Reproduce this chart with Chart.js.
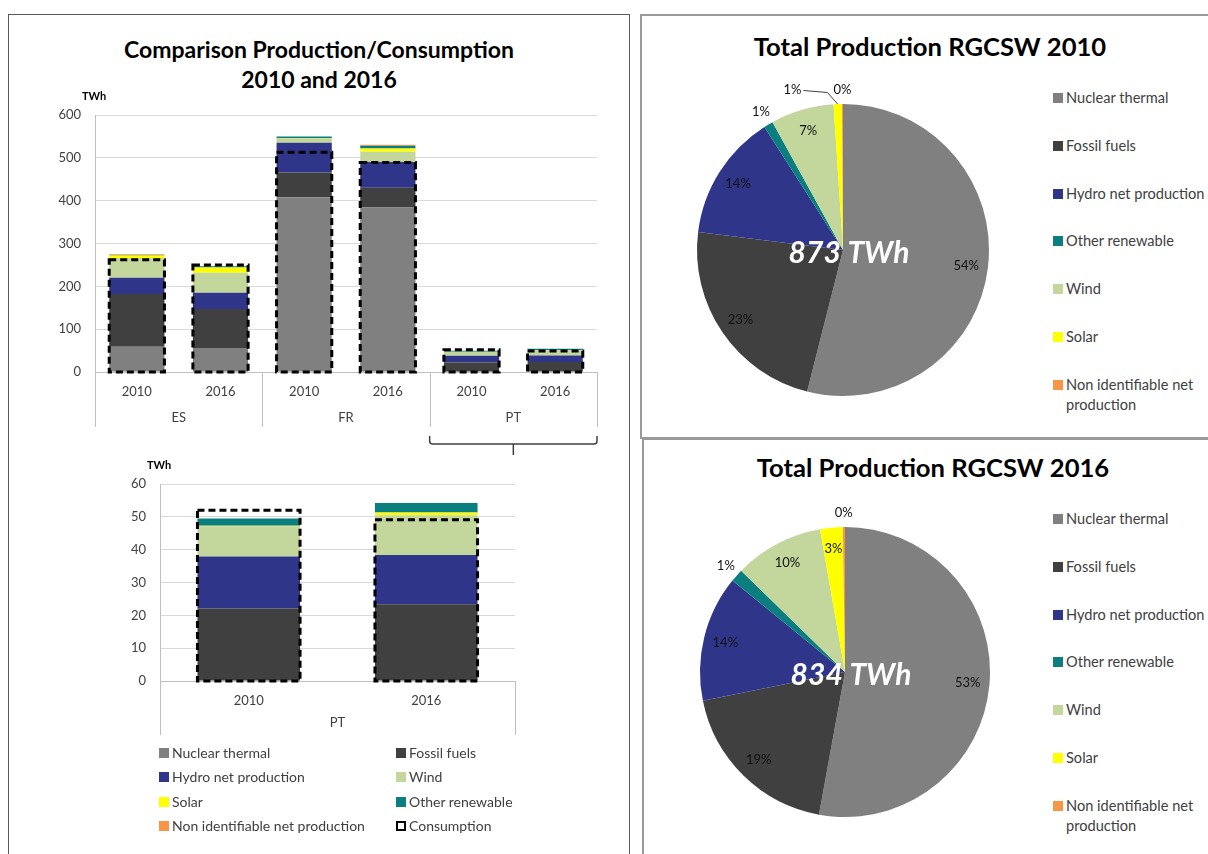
<!DOCTYPE html>
<html>
<head>
<meta charset="utf-8">
<title>Production / Consumption RGCSW 2010 - 2016</title>
<script src="https://cdn.jsdelivr.net/npm/chart.js@4.4.1/dist/chart.umd.min.js"></script>
<style>
  body { margin: 0; background: #fff; font-family: Lato, "Open Sans", sans-serif; color: #404040; }
  #page { position: relative; width: 1208px; height: 854px; overflow: hidden; }
  .frame { position: absolute; box-sizing: border-box; }
  .title { position: absolute; text-align: center; font-weight: bold; color: #000; }
  canvas { position: absolute; }
  .leg { position: absolute; white-space: nowrap; color: #404040; }
  .leg i { position: absolute; left: 0; display: block; box-sizing: border-box; }
</style>
</head>
<body>
<div id="page">
  <div class="frame" style="left:8px;top:14px;width:622px;height:900px;border:1px solid #595959;"></div>
  <div class="frame" style="left:640px;top:14px;width:600px;height:425px;border:2px solid #9a9a9a;"></div>
  <div class="frame" style="left:642px;top:438px;width:600px;height:500px;border:2px solid #9a9a9a;"></div>

  <div class="title" style="left:8px;top:34px;width:622px;font-size:23px;line-height:30px;">Comparison Production/Consumption<br>2010 and 2016</div>
  <div class="title" style="left:700px;top:31px;width:460px;font-size:25.6px;line-height:30px;">Total Production RGCSW 2010</div>
  <div class="title" style="left:703px;top:452px;width:460px;font-size:25.6px;line-height:30px;">Total Production RGCSW 2016</div>

  <canvas id="mainChart" width="600" height="370" style="left:20px;top:90px;"></canvas>
  <canvas id="ptChart" width="440" height="290" style="left:100px;top:455px;"></canvas>
  <canvas id="pie2010" width="360" height="380" style="left:663px;top:60px;"></canvas>
  <canvas id="pie2016" width="360" height="370" style="left:665px;top:482px;"></canvas>
</div>

<script>
  // columns: ES 2010, ES 2016, FR 2010, FR 2016, PT 2010, PT 2016
  const years = ['2010', '2016', '2010', '2016', '2010', '2016'];
  const countries = ['ES', 'FR', 'PT'];

  // TWh
  const nuclear = [59, 56, 408, 384, 0, 0];
  const fossil = [123, 91, 58, 46, 22.1, 23.4];
  const hydro = [38, 38, 69, 60, 15.8, 15];
  const wind = [46, 47, 10, 24, 9.2, 12.1];
  const solar = [6, 12, 0.6, 8, 0.2, 0.8];
  const otherRen = [1, 3, 4, 6.5, 2.2, 2.9];
  const nonIdent = [2, 0.5, 0.4, 2, 0, 0];
  const consumption = [262, 250, 513, 489, 52, 49.1];

  // regional totals by source (TWh)
  const pieSources = ['Nuclear thermal', 'Fossil fuels', 'Hydro net production', 'Other renewable', 'Wind', 'Solar', 'Non identifiable net production'];
  const pie2010 = [471, 201, 122, 9, 61, 8, 1];
  const pie2016 = [441, 158, 117, 12, 83, 21, 2];

  const colors = {
    'Nuclear thermal': '#808080',
    'Fossil fuels': '#404040',
    'Hydro net production': '#2f3689',
    'Wind': '#c3d69b',
    'Solar': '#ffff00',
    'Other renewable': '#0b7f7f',
    'Non identifiable net production': '#f79646'
  };

  const barSeries = [
    { label: 'Nuclear thermal', data: nuclear },
    { label: 'Fossil fuels', data: fossil },
    { label: 'Hydro net production', data: hydro },
    { label: 'Wind', data: wind },
    { label: 'Solar', data: solar },
    { label: 'Other renewable', data: otherRen },
    { label: 'Non identifiable net production', data: nonIdent }
  ];

  Chart.defaults.font.family = 'Lato';
  Chart.defaults.color = '#404040';

  // dashed consumption outline over each stacked column
  const consumptionBoxes = {
    id: 'consumptionBoxes',
    afterDatasetsDraw(chart, args, opts) {
      const { ctx, scales: { y } } = chart;
      const bars = chart.getDatasetMeta(0).data;
      ctx.save();
      ctx.strokeStyle = '#000';
      ctx.lineWidth = 3;
      ctx.setLineDash([7, 4]);
      opts.values.forEach((v, i) => {
        const bar = bars[i];
        const top = y.getPixelForValue(v);
        const base = y.getPixelForValue(0);
        ctx.strokeRect(bar.x - bar.width / 2, top, bar.width, base - top);
      });
      ctx.restore();
    }
  };

  // second label row (country) with separators, plus optional brace under one group
  const groupAxis = {
    id: 'groupAxis',
    afterDraw(chart, args, opts) {
      const { ctx, scales: { x } } = chart;
      const step = x.width / chart.data.labels.length;
      ctx.save();
      ctx.strokeStyle = '#bfbfbf';
      ctx.lineWidth = 1;
      ctx.fillStyle = '#404040';
      ctx.font = '13px Lato';
      ctx.textAlign = 'center';
      ctx.textBaseline = 'middle';
      const edges = opts.groups.map(g => [
        x.getPixelForValue(g.first) - step / 2,
        x.getPixelForValue(g.last) + step / 2
      ]);
      opts.groups.forEach((g, k) => {
        edges[k].forEach(px => {
          const sx = Math.round(px) + 0.5;
          ctx.beginPath();
          ctx.moveTo(sx, x.top);
          ctx.lineTo(sx, x.top + opts.lineLength);
          ctx.stroke();
        });
        ctx.fillText(g.label, (edges[k][0] + edges[k][1]) / 2, x.top + opts.labelOffset);
      });
      if (opts.brace != null) {
        const [l, r] = edges[opts.brace];
        const mid = (l + r) / 2;
        const top = x.top + opts.lineLength + 9;
        const bar = top + 8;
        ctx.strokeStyle = '#404040';
        ctx.lineWidth = 1.5;
        ctx.beginPath();
        ctx.moveTo(l, top);
        ctx.lineTo(l, bar - 3);
        ctx.quadraticCurveTo(l, bar, l + 3, bar);
        ctx.lineTo(r - 3, bar);
        ctx.quadraticCurveTo(r, bar, r, bar - 3);
        ctx.lineTo(r, top);
        ctx.moveTo(mid, bar);
        ctx.lineTo(mid, bar + 11);
        ctx.stroke();
      }
      ctx.restore();
    }
  };

  const unitLabel = {
    id: 'unitLabel',
    afterDraw(chart) {
      const { ctx, chartArea } = chart;
      ctx.save();
      ctx.font = 'bold 11px Lato';
      ctx.fillStyle = '#000';
      ctx.textBaseline = 'middle';
      ctx.fillText('TWh', chartArea.left - 13, chartArea.top - 19);
      ctx.restore();
    }
  };

  function stackedBars(canvasId, from, barPct, yMax, yStep, pad, axisH, axisW, groupOpts) {
    const datasets = barSeries.map(s => ({
      label: s.label,
      data: s.data.slice(from),
      backgroundColor: colors[s.label],
      borderWidth: 0,
      barPercentage: barPct,
      categoryPercentage: 1
    }));
    return new Chart(document.getElementById(canvasId), {
      type: 'bar',
      data: { labels: years.slice(from), datasets: datasets },
      options: {
        responsive: false,
        animation: false,
        layout: { padding: pad },
        plugins: {
          legend: { display: false },
          tooltip: { enabled: false },
          consumptionBoxes: { values: consumption.slice(from) },
          groupAxis: groupOpts
        },
        scales: {
          x: {
            stacked: true,
            grid: { display: false },
            border: { color: '#bfbfbf' },
            ticks: { font: { size: 13 }, padding: 4, maxRotation: 0, autoSkip: false, color: '#404040' },
            afterFit: s => { s.height = axisH; }
          },
          y: {
            stacked: true,
            min: 0,
            max: yMax,
            ticks: { stepSize: yStep, font: { size: 13 }, padding: 14, color: '#404040' },
            grid: { color: '#d9d9d9', drawTicks: false },
            border: { color: '#bfbfbf' },
            afterFit: s => { s.width = axisW; }
          }
        }
      },
      plugins: [consumptionBoxes, groupAxis, unitLabel]
    });
  }

  stackedBars('mainChart', 0, 0.66, 600, 100,
    { top: 25, right: 23, left: 0, bottom: 0 }, 88, 75,
    {
      groups: countries.map((c, k) => ({ label: c, first: k * 2, last: k * 2 + 1 })),
      lineLength: 55, labelOffset: 46, brace: 2
    });

  stackedBars('ptChart', 4, 0.578, 60, 10,
    { top: 29, right: 25, left: 0, bottom: 0 }, 64, 60,
    { groups: [{ label: 'PT', first: 0, last: 1 }], lineLength: 54, labelOffset: 42 });

  // percentages around the pie and the total in the middle
  const pieLabels = {
    id: 'pieLabels',
    afterDatasetsDraw(chart) {
      const { ctx } = chart;
      const arcs = chart.getDatasetMeta(0).data;
      const vals = chart.data.datasets[0].data;
      const total = vals.reduce((a, b) => a + b, 0);
      ctx.save();
      ctx.font = '13px Lato';
      ctx.fillStyle = '#111';
      ctx.strokeStyle = '#404040';
      ctx.lineWidth = 1;
      ctx.textAlign = 'center';
      ctx.textBaseline = 'middle';
      let prev = null;
      for (let i = arcs.length - 1; i >= 0; i--) {
        const a = arcs[i];
        const pct = Math.round(vals[i] / total * 100);
        const text = pct + '%';
        const mid = (a.startAngle + a.endAngle) / 2;
        const w = ctx.measureText(text).width;
        if (pct >= 3) {
          const r = a.outerRadius * 0.85;
          ctx.fillText(text, a.x + Math.cos(mid) * r, a.y + Math.sin(mid) * r);
          continue;
        }
        const r = a.outerRadius * 1.1;
        let lx = a.x + Math.cos(mid) * r;
        const ly = a.y + Math.sin(mid) * r;
        if (prev && Math.abs(ly - prev.y) < 14 && lx + w / 2 > prev.left - 4) {
          lx = prev.left - 32 - w / 2;
          ctx.beginPath();
          ctx.moveTo(lx + w / 2 + 2, ly + 1);
          ctx.lineTo(lx + w / 2 + 26, ly + 3);
          ctx.lineTo(a.x + Math.cos(mid) * a.outerRadius, a.y + Math.sin(mid) * a.outerRadius);
          ctx.stroke();
        }
        ctx.fillText(text, lx, ly);
        prev = { left: lx - w / 2, y: ly };
      }
      const c = arcs[0];
      ctx.font = 'italic bold 30px Lato';
      ctx.fillStyle = '#fff';
      ctx.fillText(total + ' TWh', c.x + 6, c.y + 3);
      ctx.restore();
    }
  };

  function pie(canvasId, values, pad) {
    return new Chart(document.getElementById(canvasId), {
      type: 'pie',
      data: {
        labels: pieSources,
        datasets: [{
          data: values,
          backgroundColor: pieSources.map(s => colors[s]),
          borderWidth: 0
        }]
      },
      options: {
        responsive: false,
        animation: false,
        layout: { padding: pad },
        plugins: { legend: { display: false }, tooltip: { enabled: false } }
      },
      plugins: [pieLabels]
    });
  }

  pie('pie2010', pie2010, { left: 34, right: 34, top: 44, bottom: 44 });
  pie('pie2016', pie2016, { left: 35, right: 35, top: 45, bottom: 35 });

  // legends
  const page = document.getElementById('page');

  function legendItem(left, top, text, swatch, fontSize, lineH, width) {
    const d = document.createElement('div');
    d.className = 'leg';
    d.style.left = left + 'px';
    d.style.top = top + 'px';
    d.style.fontSize = fontSize + 'px';
    d.style.lineHeight = lineH + 'px';
    d.style.paddingLeft = '13px';
    if (width) { d.style.width = width + 'px'; d.style.whiteSpace = 'normal'; }
    const box = document.createElement('i');
    box.style.width = '10px';
    box.style.height = '10px';
    box.style.top = ((lineH - 10) / 2) + 'px';
    if (swatch) box.style.background = swatch;
    else { box.style.border = '2px dashed #000'; }
    d.appendChild(box);
    d.appendChild(document.createTextNode(text));
    page.appendChild(d);
  }

  const barLegend = barSeries.map(s => s.label).concat(['Consumption']);
  barLegend.forEach((name, i) => {
    const col = i % 2, row = Math.floor(i / 2);
    legendItem(col ? 396 : 159, 745 + row * 24.3, name, colors[name] || null, 14, 16);
  });

  pieSources.forEach((name, i) => {
    legendItem(1053, 88 + i * 47.8, name, colors[name], 14.6, 20, 150);
    legendItem(1053, 509 + i * 47.8, name, colors[name], 14.6, 20, 150);
  });
</script>
</body>
</html>
